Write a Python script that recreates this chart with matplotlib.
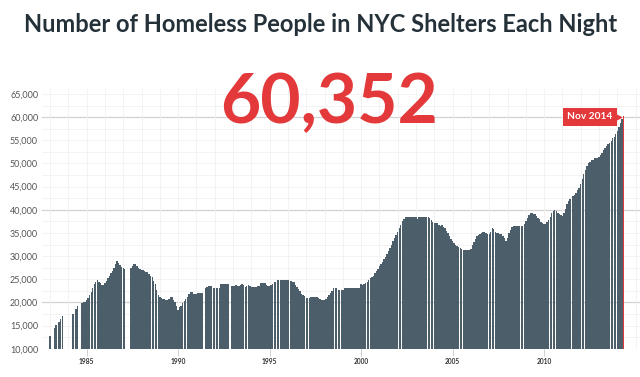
import matplotlib.pyplot as plt
import numpy as np

# monthly shelter census, first value is Jul 1983, None = month with no data
first_year, first_month = 1983, 7
counts_1980s = [
    12750, None, None, 14500, 15100, None,                                        # 1983 (Jul-Dec)
    15800, 16400, 17000, None, None, None, None, None, None, 17600, None, 18600,  # 1984
    19300, None, None, 19900, 20000, 20100, 20600, 21000, 21500, 22300, 23000, 24000,  # 1985
    24500, 24800, 24500, 24200, 23800, 23700, 24100, 24600, 25300, 25800, 26300, 26700,  # 1986
    27500, 28300, 29000, 28400, 28000, 27600, 27400, 27200, None, None, None, 27500,  # 1987
    27800, 28200, 28300, 27800, 27500, 27300, 27100, 26900, 26700, 26600, 26500, 26100,  # 1988
    25800, 25400, 24600, 23900, 22700, 21600, 21200, 20900, 20800, 20700, 20600, 20600,  # 1989
]
counts_1990s = [
    20700, 21200, 21100, 20600, 20000, 19300, 18400, 18900, 19300, 19800, 20300, 20700,  # 1990
    21200, 21800, 22200, 22200, 21900, 21800, 21800, 22000, 22100, 22100, 22100, None,   # 1991
    23000, 23300, 23500, 23600, 23500, 23100, 23000, 23000, 23000, 23100, 23900, 24000,  # 1992
    24000, 24000, 24000, 24000, None, 23600, 23600, 23600, 23700, 23600, 23600, 23800,   # 1993
    23900, 23700, 23400, 23500, 23700, 23500, 23400, 23400, 23400, 23400, 23500, 23500,  # 1994
    24100, 24100, 24100, 24100, 23800, 23500, 23500, 23700, 24000, 24300, 24500, 24900,  # 1995
    24900, 24900, 24900, 24900, 24900, 24900, 24900, None, 24600, 24500, 24300, 23800,   # 1996
    23400, 22900, 22400, 21900, 21500, 21300, 21000, 20900, 20900, 21100, 21200, 21200,  # 1997
    21200, 21200, 20900, 20700, 20600, 20600, 20600, 20700, 21200, 21600, 22100, 22500,  # 1998
    23000, 23000, 23000, 22700, 22600, 22600, 22600, 23000, 23000, 23000, 23000, 23000,  # 1999
]
counts_2000s = [
    23000, 23000, 23000, 23000, 23000, 23100, 24000, 23800, 24000, 24200, 24500, 24900,  # 2000
    25200, 25500, 25800, 26300, 26800, 27300, 27800, 28200, 28700, 29300, 29900, 30500,  # 2001
    31200, 31800, 32400, 33200, 33900, 34600, 35300, 36000, 36800, 37600, 38100, 38500,  # 2002
    38500, 38500, 38500, 38500, 38500, 38500, 38500, 37900, 38500, 38500, 38500, 38500,  # 2003
    38500, 38500, 38500, 38300, 37800, 37300, 37100, 37100, 37100, 36700, 36500, 36700,  # 2004
    36300, 36000, 35500, 34900, 34300, 33700, 33200, 32800, 32400, 32200, 32000, 31800,  # 2005
    31500, 31400, 31400, 31400, 31400, 31400, 31500, 32300, 33000, 33700, 34300, 34600,  # 2006
    34700, 35000, 35200, 35300, 35000, 34700, 34700, 35300, 36000, 35800, 35300, 34900,  # 2007
    34900, 34800, 34700, 34400, 34000, 33200, 34000, 35000, 35700, 36300, 36600, 36600,  # 2008
    36500, 36400, 36400, 36400, 36500, 37000, 37600, 38200, 38900, 39200, 39200, 39100,  # 2009
]
counts_2010s = [
    39000, 38700, 38300, 37900, 37400, 37100, 37000, 37000, 37300, 37800, 38500, 39200,  # 2010
    39700, 39900, 39700, 39200, 39000, 38800, 38700, 39300, 40200, 41200, 41900, 42300,  # 2011
    None, 42900, 43200, 43600, 44200, 44700, 45600, 46600, 47700, 48500, 49400, 50000,   # 2012
    50400, 50700, 50800, 51100, 51200, 51200, 51400, 51800, 52300, 53000, 53400, 53700,  # 2013
    54100, 54500, 54900, 55400, 55800, 56400, 57100, 57900, 58700, 59500, 60352,         # 2014 (Jan-Nov)
]

year_ticks = [1985, 1990, 1995, 2000, 2005, 2010]
value_ticks = list(range(10000, 65001, 5000))
title = "Number of Homeless People in NYC Shelters Each Night"
headline = "60,352"
latest_label = "Nov 2014"

slate = "#4b5e6a"
red = "#e3393a"

counts = counts_1980s + counts_1990s + counts_2000s + counts_2010s
t = first_year + (first_month - 1) / 12 + np.arange(len(counts)) / 12
have = np.array([c is not None for c in counts])
vals = np.array([c if c is not None else 0 for c in counts], dtype=float)

fig = plt.figure(figsize=(6.4, 3.77), dpi=100)
ax = fig.add_axes([42 / 640, 1 - 348.7 / 377, 598 / 640, 0.6879])

# grid: faint every 2,500, a bit stronger at 20k / 40k / 60k
for v in range(12500, 66000, 2500):
    c = "#d2d2d2" if v % 20000 == 0 else "#f1f1f1"
    ax.axhline(v, color=c, lw=0.9 if v % 20000 == 0 else 0.6, zorder=0)
for yr in range(1983, 2016):
    ax.axvline(yr + 0.5, color="#f1f1f1", lw=0.6, zorder=0)

bar_colors = [slate] * (len(counts) - 1) + [red]
ax.bar(t[have], vals[have], width=1 / 12 * 0.92, color=np.array(bar_colors)[have],
       linewidth=0, zorder=2)

ax.set_xlim(1983.06, 2015.74)
ax.set_ylim(10000, 66000)
for s in ax.spines.values():
    s.set_visible(False)

ax.set_xticks([y + 0.5 for y in year_ticks])
ax.set_xticklabels([str(y) for y in year_ticks], family="Lato", fontweight="bold",
                   fontsize=4.8, color="#333333")
ax.tick_params(axis="x", length=5, width=0.6, color="#c8c8c8", pad=2)

ax.set_yticks(value_ticks)
ax.set_yticklabels([f"{v:,}" for v in value_ticks], family="Lato", fontsize=6.5,
                   color="#555555")
ax.tick_params(axis="y", length=0, pad=23)
for lab in ax.get_yticklabels():
    lab.set_ha("left")

# latest value tag
ax.text(t[-1] - 0.6, counts[-1] - 300, latest_label, ha="right", va="center",
        color="white", fontsize=7.3, fontweight="bold", family="Lato",
        bbox=dict(boxstyle="square,pad=0.45", fc=red, ec="none"), zorder=5)
ax.plot(t[-1] - 0.3, counts[-1] - 300, marker=">", ms=4.5, color=red, zorder=5)

fig.text(321 / 640, 1 - 32 / 377, title, ha="center", va="baseline",
         fontsize=17, fontweight="bold", family="Lato", color="#253139")
fig.text(329 / 640, 1 - 123 / 377, headline, ha="center", va="baseline",
         fontsize=50, fontweight="bold", family="Lato", color=red)

fig.savefig("out.png", dpi=100)
